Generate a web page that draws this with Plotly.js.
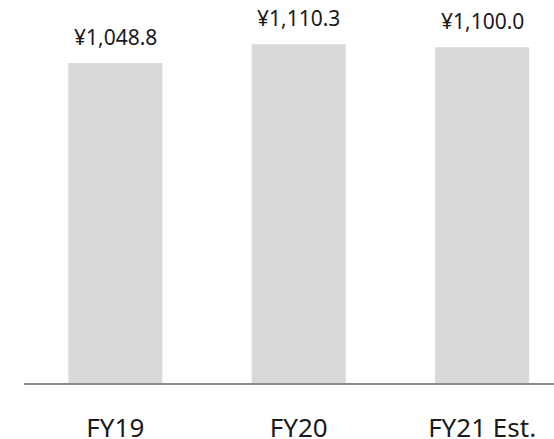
<!DOCTYPE html>
<html>
<head>
<meta charset="utf-8">
<script src="https://cdn.plot.ly/plotly-3.0.1.min.js"></script>
<style>
  html, body { margin: 0; padding: 0; background: #ffffff; }
  #chart { width: 554px; height: 439px; }
</style>
</head>
<body>
<div id="chart"></div>
<script>
// Fiscal years and values (¥)
const years = ["FY19", "FY20", "FY21 Est."];
const values = [1048.8, 1110.3, 1100.0];
const valueLabels = ["¥1,048.8", "¥1,110.3", "¥1,100.0"];

const FONT = "Noto Sans, Open Sans, Arial, sans-serif";

const trace = {
  type: "bar",
  x: years,
  y: values,
  width: 0.513,
  marker: { color: "#d9d9d9", line: { width: 0 } },
  hoverinfo: "skip"
};

// Value labels sit just above each bar
const annotations = years.map((yr, i) => ({
  x: yr,
  y: values[i],
  xref: "x",
  yref: "y",
  text: valueLabels[i],
  showarrow: false,
  yanchor: "bottom",
  yshift: 10,
  font: { family: FONT, size: 21, color: "#1a1a1a" }
}));

const layout = {
  width: 554,
  height: 439,
  margin: { l: 24, r: 0, t: 0, b: 56, pad: 0 },
  paper_bgcolor: "#ffffff",
  plot_bgcolor: "#ffffff",
  showlegend: false,
  xaxis: {
    type: "category",
    range: [-0.498, 2.392],
    showgrid: false,
    zeroline: false,
    showline: true,
    linecolor: "#8a8a8a",
    linewidth: 2,
    ticks: "",
    ticklabelstandoff: 21,
    tickfont: { family: FONT, size: 26, color: "#1a1a1a" },
    fixedrange: true
  },
  yaxis: {
    range: [0, 1255],
    visible: false,
    showgrid: false,
    zeroline: false,
    fixedrange: true
  },
  annotations: annotations
};

Plotly.newPlot("chart", [trace], layout, { staticPlot: true, displayModeBar: false });
</script>
</body>
</html>
